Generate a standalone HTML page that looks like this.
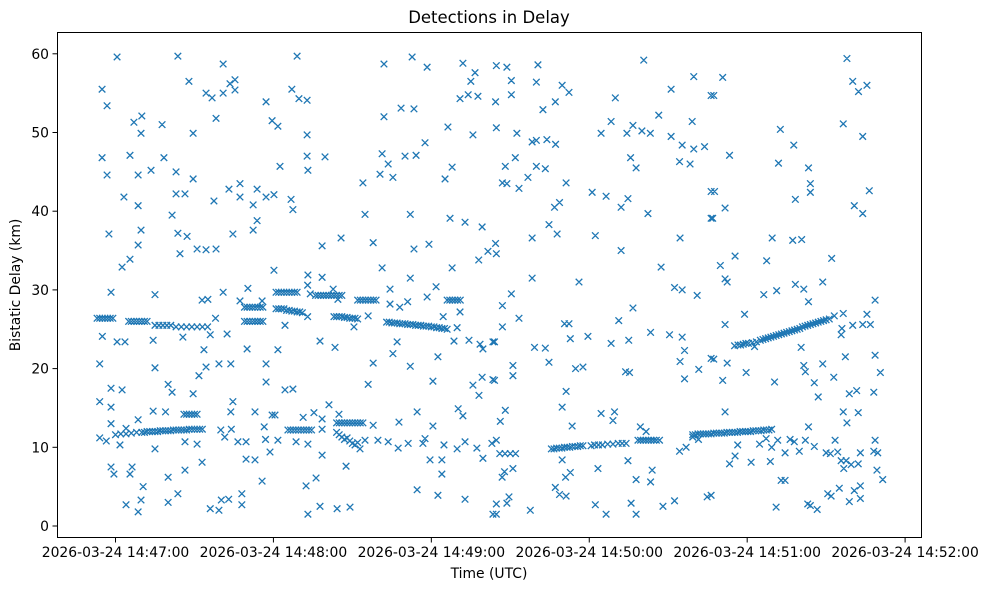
<!DOCTYPE html>
<html><head><meta charset="utf-8"><title>Detections in Delay</title>
<style>
html,body{margin:0;padding:0;background:#fff;}
svg{display:block;font-family:"DejaVu Sans","Liberation Sans",sans-serif;}
</style></head>
<body>
<svg id="chart" width="988" height="590" viewBox="0 0 988 590">
  <rect x="0" y="0" width="988" height="590" fill="#fff"/>
  <text x="489" y="23" text-anchor="middle" font-size="16.5" fill="#000">Detections in Delay</text>
  <g id="marks"></g>
  <rect x="57.5" y="32.5" width="864" height="505" fill="none" stroke="#000" stroke-width="1"/>
  <g id="yaxis"></g>
  <g id="xaxis"></g>
  <text x="489" y="578" text-anchor="middle" font-size="13.9" fill="#000">Time (UTC)</text>
  <text transform="translate(20,285) rotate(-90)" text-anchor="middle" font-size="13.9" fill="#000">Bistatic Delay (km)</text>
</svg>
<script>
// Time values are seconds after 14:46:00 UTC; delays in km.
const xTickSeconds = [60, 120, 180, 240, 300, 360];
const xTickLabels = ["2026-03-24 14:47:00","2026-03-24 14:48:00","2026-03-24 14:49:00","2026-03-24 14:50:00","2026-03-24 14:51:00","2026-03-24 14:52:00"];
const yTickValues = [0, 10, 20, 30, 40, 50, 60];
const yTickLabels = ["0","10","20","30","40","50","60"];

const noisePoints = [
[60.6,59.6],[83.7,59.7],[100.9,58.7],[54.9,55.5],[56.8,53.4],[87.9,56.5],[94.4,55.0],[96.7,54.4],[100.9,55.0],[103.5,56.2],[105.4,56.7],[105.4,55.4],[117.2,53.9],[119.5,51.5],[67,51.3],[70,52.1],[69.7,49.9],[77.7,51],[89.5,49.9],[98.2,51.8],
[54.9,46.8],[56.8,44.6],[65.5,47.1],[68.6,44.6],[73.5,45.2],[78.4,46.8],[83,45],[89.5,44.1],[63.2,41.8],[68.6,40.7],[83,42.2],[86.4,42.2],[97.4,41.3],[103.1,42.8],[107.3,43.5],[107.3,41.8],[113.8,42.8],[112.3,40.8],[117.2,41.8],[120.2,42.1],
[81.5,39.5],[57.5,37.1],[69.7,37.6],[68.6,35.7],[83.7,37.2],[87.2,36.8],[84.5,34.6],[91,35.2],[94.4,35.1],[98.2,35.2],[104.6,37.1],[112.3,37.6],[113.8,38.8],[65.5,33.9],[62.5,32.9],[120.2,32.5],
[58.3,29.7],[75,29.4],[100.9,29.7],[110.3,30.2],[92.9,28.7],[95.1,28.8],[107.3,28.6],[115.7,28.6],[55,24.1],[60.6,23.4],[63.6,23.4],[74.3,23.6],[85.6,24],[96,24.3],[102.4,24.4],[98,26.4],
[54,20.6],[75,20.1],[93.6,22.4],[110,22.5],[94.4,20.2],[99.3,20.6],[103.8,20.6],[91.7,19.1],[117.2,20.6],[117.2,18.3],[58.3,17.5],[62.5,17.3],[80,18],[81.5,17],[89.5,16.8],[54,15.8],[58.3,15.1],[104.6,15.8],
[74.3,14.6],[79,14.5],[103.8,14.5],[113,14.5],[119.5,14.1],[58.3,13],[68.6,13.5],[64,12.4],[116.5,12.6],[54,11.2],[56.5,10.8],[61.7,10.3],[75,9.8],[86.4,10.7],[91,10.4],[100,12.2],[104,12.3],[101.5,11.3],[106.5,10.7],[109.6,10.7],[117,11],[118.7,9.4],
[92.9,8.1],[109.6,8.5],[113,8.4],[58.3,7.5],[59.4,6.6],[66.3,7.5],[65.5,6.6],[80,6.2],[86.4,7.1],[115.7,5.7],[70.5,5.0],[64,2.7],[69.7,3.3],[68.6,1.8],[80,3],[83.7,4.1],[96,2.2],[99.3,2],[100.2,3.3],[103,3.4],[108,4.1],[108,2.7],
[129,59.7],[127,55.5],[129.7,54.3],[132.8,54.1],[121.7,50.8],[132.8,49.7],[132.8,47],[139.6,46.9],[133.1,45.2],[122.5,45.7],[126.7,41.5],[127.4,40.2],[162,58.7],[172.7,59.6],[178.4,58.3],[162,52],[168.5,53.1],[173.4,53],[177.6,48.7],
[161.3,47.3],[163.6,46],[160.5,44.7],[165.4,44.3],[170,47],[174.2,47.1],[154,43.6],[192,58.8],[196.6,57.6],[195,56.5],[190.9,54.3],[194,54.8],[197.7,54.6],[186.3,50.7],[195.8,49.7],[185.2,44.1],[187.9,45.6],
[154.8,39.6],[172,39.6],[187.1,39.1],[192.8,38.6],[199.3,38],[138.5,35.6],[145.7,36.6],[157.9,36],[173.4,35.2],[179.1,35.8],[198,33.8],[201.5,34.9],[161.3,32.8],[172,31.5],[187.9,32.8],[133.1,31.9],[138.5,31.6],
[133,30.6],[134,29.5],[142.7,30.1],[144.5,28.8],[124.4,25.5],[133,26.6],[150.6,25.3],[156,26.7],[164.3,30.1],[164.3,28.2],[168,27.8],[171,28.5],[178.4,29.1],[181.8,30.4],[184.5,26.6],[190.9,27.2],[189.8,25.2],
[188.6,23.5],[194.3,23.6],[198.5,23.1],[199.6,22.5],[203.4,23.4],[121.7,22.4],[137.7,23.5],[143.4,22.7],[167,23.4],[165.4,21.9],[157.9,20.7],[172,20.3],[182.5,21.5],[156,18],[180.6,18.4],[195.8,17.9],[199.3,18.9],[198.1,16.6],[203.4,18.6],[124.4,17.3],[127.4,17.4],
[120.6,14.1],[131.3,13.8],[135.4,14.4],[141.1,15.4],[138.5,13.6],[144.9,14.2],[138.5,12.3],[121.7,10.9],[128.6,10.7],[133.1,10.4],[138.5,9],[147.6,7.6],[136.2,6.1],[132.4,5.1],[133.1,1.5],[137.7,2.5],[144.2,2.2],[149.1,2.4],
[152.9,9.8],[154.8,10.9],[159.7,10.9],[163.6,10.7],[167.4,9.9],[171.2,10.5],[176.8,10.5],[177.6,11.1],[157.9,12.8],[167.7,13.2],[174.6,14.5],[180.6,12.7],[184.8,10.3],[189.8,9.8],[192.8,10.7],[190.2,14.9],[192,14],[197.3,9.9],[199.6,8.6],[203,10.5],
[179.5,8.4],[184,8.4],[184,6.6],[174.6,4.6],[182.5,3.9],[192.8,3.4],[203.4,1.5],
[208.7,58.3],[210.4,56.6],[210.4,54.8],[204.7,58.5],[220.5,58.6],[219.9,56.4],[229.7,56],[232.3,55.1],[222.4,52.9],[227.1,53.9],[204.4,53.9],[204.7,50.6],[212.5,49.9],[218.3,48.8],[219.9,49],[223.9,49.1],[227.2,48.5],
[208.1,45.7],[211.9,46.8],[219.9,45.7],[223.3,45.4],[216.7,44.3],[213.3,42.9],[207,43.6],[208.7,43.5],[231.2,43.6],[226.8,40.5],[228.7,41.1],[224.7,38.3],[227.8,37.1],[218.3,36.6],[204.4,35.9],[204.7,34.6],
[218.3,31.5],[236.1,31],[210.4,29.5],[207,28],[207,25.3],[213.3,26.4],[204,23.4],[230.6,25.7],[232.3,25.7],[232.8,23.8],[219.2,22.7],[223.3,22.6],[224.7,20.8],[211,20.4],[211,19.1],[204,18.5],[234.8,20],[237.6,20.2],[239.5,24.1],
[241.1,42.4],[246.4,41.9],[252.1,40.5],[254.7,41.6],[262.3,39.7],[242.3,36.9],[252.1,35],[267.3,32.9],[244.5,49.9],[248.3,51.4],[249.9,54.4],[254.3,49.9],[256.6,50.9],[260,50.2],[263.2,49.9],[255.7,46.8],[257.8,45.5],
[260.7,59.2],[266.4,52.2],[271.1,55.5],[279.7,57.1],[271.1,49.5],[275.3,48.4],[279.7,47.9],[283.8,48.2],[279.1,51.4],[274.3,46.3],[278.3,46],[286.3,54.7],[286.3,42.5],[286.3,39.1],[274.5,36.6],
[272.4,30.3],[275.3,30],[281,29.3],[256.6,27.7],[251.2,26.1],[248.3,23.2],[255,23.6],[263.3,24.6],[270.5,24.3],[275.3,24],[276.2,22.3],[274.5,20.9],[281.6,19.9],[276.2,18.7],[286.3,21.3],[253.8,19.6],[255.3,19.5],
[231.2,17.1],[229.7,15.1],[208.1,14.7],[206.2,13.3],[244.5,14.3],[249.6,14.5],[249,13.4],[233.5,12.7],[259.4,12.6],[261.6,12],[204.7,10.9],[206,9.2],[208,9.2],[210,9.2],[212,9.2],
[206.9,6.2],[211,7.3],[207.8,6.9],[229.7,8.4],[231,6.2],[232.8,6.8],[243.3,7.3],[254.7,8.3],[257.8,5.9],[263.3,5.6],[263.9,7.1],[274.3,9.5],[276.8,10],[279.3,11.3],[281.5,11],
[227.1,4.9],[228.7,4],[231.2,3.8],[204.7,2.8],[209.5,3.7],[208.7,2.9],[204.7,1.5],[217.6,2],[242.3,2.7],[246.4,1.5],[255.9,2.9],[257.8,1.5],[268,2.5],[272.4,3.2],[284.8,3.7],
[290.7,57.0],[287.3,54.7],[293.3,47.1],[287.6,42.5],[291.6,40.4],[286.9,39.1],[337.9,59.4],[340.1,56.5],[342.3,55.2],[345.5,56],[336.5,51.1],[343.9,49.5],[312.6,50.4],[317.7,48.4],[311.9,46.1],[323.3,45.5],[324,43.5],[324,42.4],[318.3,41.5],[346.4,42.6],[340.7,40.7],[343.9,39.7],
[309.5,36.6],[317.3,36.3],[320.7,36.4],[332.1,34.0],[295.4,34.3],[289.8,33.1],[307.4,33.7],[291.6,31.4],[292.4,31],[306.3,29.4],[311.2,29.9],[318.3,30.7],[321.5,30.1],[323.3,28.5],[328.7,31],
[291.6,25.6],[299,26.9],[348.6,28.7],[333.1,26.7],[336.5,27.0],[345.5,26.9],[336,25.1],[335.7,24.3],[340.1,25.5],[343.9,25.6],[346.8,25.6],[302.8,22.8],[320.5,22.7],[321.5,20.4],[322.1,19.6],[328.7,20.6],[325.5,18.2],[327,16.4],[332.9,18.9],[337.3,21.5],[348.6,21.7],[350.6,19.5],
[338.8,16.8],[341.6,17.2],[348.1,17],[287.3,21.2],[292.4,20.7],[290.7,18.5],[299.6,19.5],[310.4,18.3],[291.6,14.5],[336.5,14.5],[337.9,13.1],[342.2,14.4],[323.3,12.6],
[296.4,10.3],[293.3,7.9],[295.4,8.9],[301.5,8.1],[304.7,10.4],[307.2,11.1],[309.3,10],[308.8,8.2],[311.6,10.9],[314.4,9.3],[316.3,11],[317.9,10.7],[319.8,9.5],[322.1,10.9],[325.5,10.1],
[330,9.3],[331.6,9.2],[333.4,10.9],[334.4,9.4],[335.7,8.3],[336.7,7.3],[337.6,8.3],[339.5,7.8],[342.2,7.9],[343,9.3],[348.1,9.5],[348.6,10.9],[349.6,9.3],[349.3,7.1],[351.5,5.9],
[312.9,5.8],[314.4,5.8],[311,2.4],[323,2.8],[324,2.6],[326.6,2.1],[330.6,4.1],[331.9,3.8],[335,4.8],[338.8,3.1],[340.7,4.5],[343,5.1],[343,3.5],[286.3,3.9]
];

const trackPoints = [
[53,26.4],[54,26.4],[55,26.4],[56,26.4],[57,26.4],[58,26.4],[59,26.4],
[65,26.0],[66,26.0],[67,26.0],[68,26.0],[69,26.0],[70,26.0],[71,26.0],[72,26.0],
[75,25.5],[76.5,25.5],[78,25.5],[79.5,25.5],[81,25.5],
[83,25.3],[85,25.3],[87,25.3],[89,25.3],[91,25.3],[93,25.3],[95,25.3],
[109,27.8],[110,27.8],[111,27.8],[112,27.8],[113,27.8],[114,27.8],[115,27.8],[116,27.8],
[109,26.0],[110,26.0],[111,26.0],[112,26.0],[113,26.0],[114,26.0],[115,26.0],[116,26.0],
[60,11.6],[62,11.7],[64,11.7],[66,11.8],[68,11.9],[70,11.9],[71,11.9],[72,12.0],[73,12.0],[74,12.0],[75,12.0],[76,12.0],[77,12.1],[78,12.1],[79,12.1],[80,12.1],[81,12.1],[82,12.2],[83,12.2],[84,12.2],[85,12.2],[86,12.2],[87,12.2],[88,12.3],[89,12.3],[90,12.3],[91,12.3],[92,12.3],[93,12.3],
[86,14.2],[87,14.2],[88,14.2],[89,14.2],[90,14.2],[91,14.2],
[121,29.7],[122,29.7],[123,29.7],[124,29.7],[125,29.7],[126,29.7],[127,29.7],[128,29.7],[129,29.7],
[136,29.3],[137,29.3],[138,29.3],[139,29.3],[140,29.3],[141,29.3],[142,29.3],[143,29.3],[144,29.3],[145,29.3],[146,29.3],
[152,28.7],[153,28.7],[154,28.7],[155,28.7],[156,28.7],[157,28.7],[158,28.7],[159,28.7],
[121,27.6],[122,27.6],[123,27.6],[124,27.6],[125,27.4],[126,27.4],[127,27.3],[128,27.3],[129,27.2],[130,27.2],[131,27.1],
[143,26.6],[144,26.6],[145,26.6],[146,26.6],[147,26.5],[148,26.5],[149,26.4],[150,26.4],[151,26.4],[152,26.3],
[163,25.9],[164,25.9],[165,25.8],[166,25.8],[167,25.8],[168,25.7],[169,25.7],[170,25.7],[171,25.6],[172,25.6],[173,25.6],[174,25.5],[175,25.5],[176,25.5],[177,25.4],[178,25.4],[179,25.4],[180,25.3],[181,25.3],[182,25.2],[183,25.2],[184,25.1],[185,25.1],[186,25.0],
[186,28.7],[187,28.7],[188,28.7],[189,28.7],[190,28.7],[191,28.7],
[125.5,12.2],[126.5,12.2],[127.5,12.2],[128.5,12.2],[129.5,12.2],[130.5,12.2],[131.5,12.2],[132.5,12.2],[133.5,12.2],[134.5,12.2],
[144,13.1],[145,13.1],[146,13.1],[147,13.1],[148,13.1],[149,13.1],[150,13.1],[151,13.1],[152,13.1],[153,13.1],[154,13.1],
[144,11.9],[145,11.6],[146,11.3],[147,11.0],[148,11.2],[149,10.8],[150,10.5],[151,10.3],[152,10.6],
[225.6,9.8],[226.6,9.8],[227.6,9.9],[228.6,9.9],[229.6,9.9],[230.6,10.0],[231.6,10.0],[232.6,10.0],[233.6,10.1],[234.6,10.1],[235.6,10.1],[236.6,10.2],[237.6,10.2],
[240.7,10.2],[242,10.3],[243.5,10.3],[245,10.3],[247,10.4],[249,10.4],[251,10.5],[252.5,10.5],[254,10.5],
[258.5,10.9],[259.5,10.9],[260.5,10.9],[261.5,10.9],[262.5,10.9],[263.5,10.9],[264.5,10.9],[265.5,10.9],[266.7,10.9],
[279.3,11.6],[280.3,11.6],[281.3,11.7],[282.3,11.7],[283.3,11.7],[284.3,11.7],[285.3,11.7],[286.3,11.7],[287.3,11.8],[288.3,11.8],[289.3,11.8],[290.3,11.8],[291.3,11.8],[292.3,11.9],[293.3,11.9],[294.3,11.9],[295.3,11.9],[296.3,11.9],[297.3,12.0],[298.3,12.0],[299.3,12.0],[300.3,12.0],[301.3,12.0],[302.3,12.1],[303.3,12.1],[304.3,12.1],[305.3,12.1],[306.3,12.2],[307.3,12.2],[308.3,12.2],[309.3,12.3],
[295.2,22.9],[296.5,23.0],[297.5,23.0],[298.5,23.1],[299.5,23.2],[300.5,23.2],[302,23.3],[303.5,23.4],[305,23.6],[306,23.7],[307,23.8],[308,23.9],[309,24.0],[310,24.1],[311,24.2],[312,24.3],[313,24.4],[314,24.5],[315,24.6],[316,24.7],[317,24.8],[318,24.9],[319,25.0],[320,25.1],[321,25.3],[322,25.4],[323,25.5],[324,25.6],[325,25.7],[326,25.8],[327,25.9],[328,26.0],[329,26.1],[330,26.2],[331.2,26.3]
];

const X0 = 115.5, PX_PER_SEC = 2.632, Y0 = 526, PX_PER_KM = 7.87;
function xScale(t){ return X0 + (t - 60) * PX_PER_SEC; }
function yScale(d){ return Y0 - d * PX_PER_KM; }

const NS = "http://www.w3.org/2000/svg";
const marks = document.getElementById('marks');
const allPoints = noisePoints.concat(trackPoints);
let pathD = "";
const s = 3.3;
allPoints.forEach(function(p){
  const cx = xScale(p[0]), cy = yScale(p[1]);
  pathD += "M" + (cx - s).toFixed(2) + " " + (cy - s).toFixed(2) + "L" + (cx + s).toFixed(2) + " " + (cy + s).toFixed(2) +
           "M" + (cx - s).toFixed(2) + " " + (cy + s).toFixed(2) + "L" + (cx + s).toFixed(2) + " " + (cy - s).toFixed(2);
});
const path = document.createElementNS(NS, 'path');
path.setAttribute('d', pathD);
path.setAttribute('stroke', '#1f77b4');
path.setAttribute('stroke-width', '1.3');
path.setAttribute('fill', 'none');


marks.appendChild(path);

const yaxis = document.getElementById('yaxis');
yTickValues.forEach(function(v, i){
  const y = yScale(v);
  const ln = document.createElementNS(NS, 'line');
  ln.setAttribute('x1', 57.5); ln.setAttribute('x2', 52.5);
  ln.setAttribute('y1', y); ln.setAttribute('y2', y);
  ln.setAttribute('stroke', '#000');
  
  
  yaxis.appendChild(ln);
  const tx = document.createElementNS(NS, 'text');
  tx.setAttribute('x', 49); tx.setAttribute('y', y + 5);
  tx.setAttribute('text-anchor', 'end'); tx.setAttribute('font-size', '13.9');
  tx.textContent = yTickLabels[i];
  
  
  yaxis.appendChild(tx);
});

const xaxis = document.getElementById('xaxis');
xTickSeconds.forEach(function(t, i){
  const x = xScale(t);
  const ln = document.createElementNS(NS, 'line');
  ln.setAttribute('x1', x); ln.setAttribute('x2', x);
  ln.setAttribute('y1', 537.5); ln.setAttribute('y2', 542.5);
  ln.setAttribute('stroke', '#000');
  
  
  xaxis.appendChild(ln);
  const tx = document.createElementNS(NS, 'text');
  tx.setAttribute('x', x); tx.setAttribute('y', 557);
  tx.setAttribute('text-anchor', 'middle'); tx.setAttribute('font-size', '13.9');
  tx.textContent = xTickLabels[i];
  
  
  xaxis.appendChild(tx);
});
</script>
</body></html>
